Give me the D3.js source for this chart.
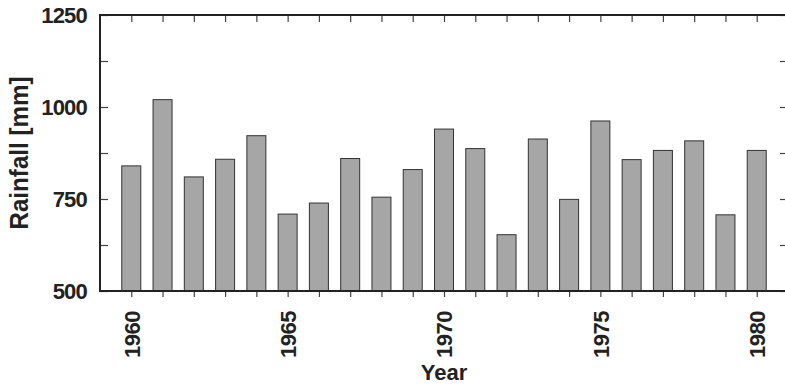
<!DOCTYPE html>
<html>
<head>
<meta charset="utf-8">
<script src="https://cdn.jsdelivr.net/npm/d3@7"></script>
<style>
  body { margin: 0; background: #fff; }
  text { font-family: "Liberation Sans", Arial, sans-serif; font-weight: bold; fill: #222; }
</style>
</head>
<body>
<script>
// yearly rainfall
const years = d3.range(1960, 1981);
const rainfall = [840, 1020, 810, 858, 922, 709, 739, 860, 755, 830, 940,
                  887, 653, 913, 749, 962, 857, 882, 908, 707, 882];
const yTicks = [500, 625, 750, 875, 1000, 1125, 1250];
const yLabels = [500, 750, 1000, 1250];
const xLabels = [1960, 1965, 1970, 1975, 1980];

const width = 785, height = 386;
const margin = {top: 15, right: -3, bottom: 95, left: 100};

const svg = d3.select("body").append("svg")
  .attr("width", width)
  .attr("height", height);

const x = d3.scaleLinear()
  .domain([1959, 1981])
  .range([margin.left, width - margin.right]);

const y = d3.scaleLinear()
  .domain([500, 1250])
  .range([height - margin.bottom, margin.top]);

const barW = 19;

// bars
svg.append("g")
  .selectAll("rect")
  .data(years)
  .enter()
  .append("rect")
  .attr("x", (d) => x(d) - barW / 2)
  .attr("y", (d, i) => y(rainfall[i]))
  .attr("width", barW)
  .attr("height", (d, i) => y(500) - y(rainfall[i]))
  .attr("fill", "#a6a6a6")
  .attr("stroke", "#333")
  .attr("stroke-width", 1);

// bottom axis, ticks outward
const xAxis = d3.axisBottom(x)
  .tickValues(years)
  .tickSize(6)
  .tickFormat((d) => xLabels.includes(d) ? d : "");

const gx = svg.append("g")
  .attr("transform", `translate(0,${y(500)})`)
  .call(xAxis);
gx.select(".domain").remove();
gx.selectAll(".tick line").attr("stroke", "#444").attr("stroke-width", 1.2);
gx.selectAll(".tick text")
  .attr("transform", "rotate(-90)")
  .attr("x", -20)
  .attr("y", 0)
  .attr("dy", "0.36em")
  .attr("text-anchor", "end")
  .style("font-size", "22px")
  .style("letter-spacing", "-0.5px");

// top axis, ticks inward
const gt = svg.append("g")
  .attr("transform", `translate(0,${y(1250)})`)
  .call(d3.axisBottom(x).tickValues(years).tickSize(7).tickFormat(""));
gt.select(".domain").remove();
gt.selectAll(".tick line").attr("stroke", "#444").attr("stroke-width", 1.2);

// left axis, ticks inward
const gy = svg.append("g")
  .attr("transform", `translate(${x(1959)},0)`)
  .call(d3.axisRight(y).tickValues(yTicks).tickSize(8)
    .tickFormat((d) => yLabels.includes(d) ? d : ""));
gy.select(".domain").remove();
gy.selectAll(".tick line").attr("stroke", "#444").attr("stroke-width", 1.2);
gy.selectAll(".tick text")
  .attr("x", -13)
  .attr("text-anchor", "end")
  .style("font-size", "22px")
  .style("letter-spacing", "-0.8px");

// right axis, ticks inward
const gr = svg.append("g")
  .attr("transform", `translate(${x(1981)},0)`)
  .call(d3.axisLeft(y).tickValues(yTicks).tickSize(8).tickFormat(""));
gr.select(".domain").remove();
gr.selectAll(".tick line").attr("stroke", "#444").attr("stroke-width", 1.2);

// frame
svg.append("rect")
  .attr("x", x(1959))
  .attr("y", y(1250))
  .attr("width", x(1981) - x(1959))
  .attr("height", y(500) - y(1250))
  .attr("fill", "none")
  .attr("stroke", "#222")
  .attr("stroke-width", 2);

// axis titles
svg.append("text")
  .attr("x", (x(1959) + x(1981)) / 2)
  .attr("y", 380)
  .attr("text-anchor", "middle")
  .style("font-size", "22px")
  .text("Year");

svg.append("text")
  .attr("transform", `translate(28,${(y(500) + y(1250)) / 2}) rotate(-90) scale(0.93,1)`)
  .attr("text-anchor", "middle")
  .style("font-size", "26px")
  .text("Rainfall [mm]");
</script>
</body>
</html>
